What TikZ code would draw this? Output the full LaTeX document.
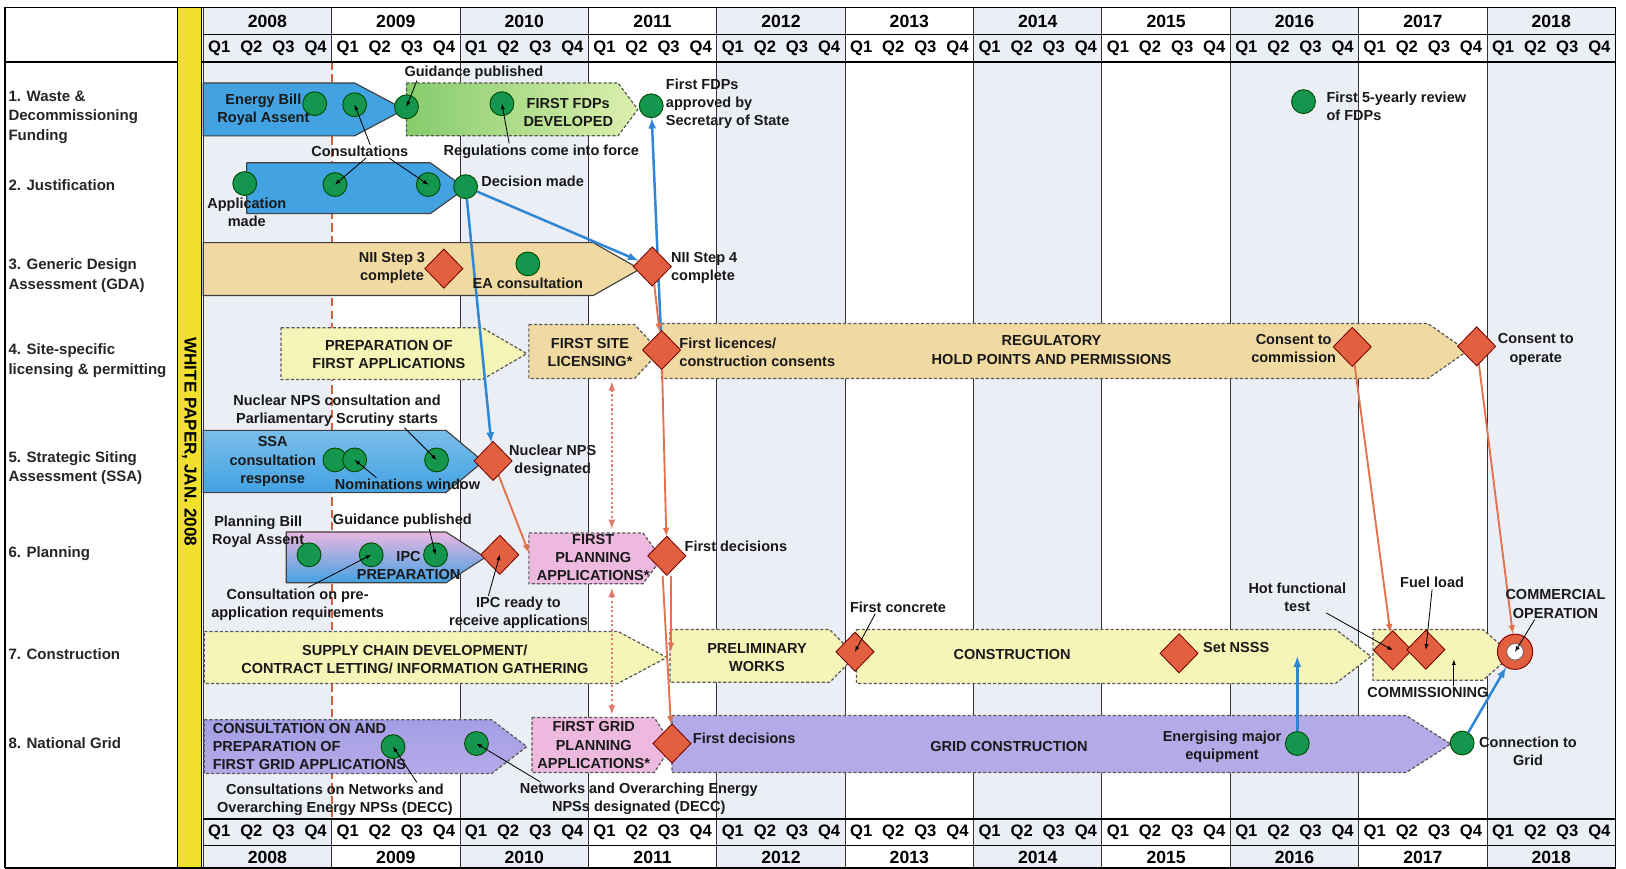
\documentclass[tikz,border=0pt]{standalone}
\usepackage{fontspec}
\setmainfont{Liberation Sans}
\usetikzlibrary{shapes.geometric}

\definecolor{yearshade}{HTML}{EBEEF4}
\definecolor{mgreen}{HTML}{15964F}
\definecolor{mred}{HTML}{E2603F}
\definecolor{ablue}{HTML}{2E86D4}
\definecolor{aorange}{HTML}{E4704C}
\definecolor{adot}{HTML}{E07A6E}
\definecolor{phblue}{HTML}{42A2E2}
\definecolor{phtan}{HTML}{F1DAA2}
\definecolor{phyellow}{HTML}{F6F5B8}
\definecolor{phpink}{HTML}{EDB9DF}
\definecolor{phlilac}{HTML}{B5AAE8}
\definecolor{lilacdark}{HTML}{A59EE6}
\definecolor{ipcpink}{HTML}{EBB6E2}
\definecolor{fdpdark}{HTML}{86CB6C}
\definecolor{fdplight}{HTML}{DCF0AE}
\definecolor{wpyellow}{HTML}{F2E12C}
\definecolor{wpline}{HTML}{CF6240}

\pgfdeclarelayer{back}
\pgfdeclarelayer{links}
\pgfsetlayers{back,links,main}

% chevron: style, x left, x flat end, x tip, y top, y bottom
\newcommand{\phase}[6]{\draw[#1] (#2,#5) -- (#3,#5) -- (#4,{(#5+#6)/2}) -- (#3,#6) -- (#2,#6) -- cycle;}

\begin{document}
\begin{tikzpicture}[x=1pt,y=-1pt,>=latex,
  milestone/.style={draw=black!70!green,fill=mgreen,shape=circle,minimum size=23pt,inner sep=0pt,line width=0.9pt},
  gate/.style={draw=black!55!red,fill=mred,shape=diamond,minimum width=37pt,minimum height=38pt,inner sep=0pt,line width=0.8pt},
  ring/.style={draw=black!50!red,fill=mred,shape=circle,minimum size=34pt,inner sep=0pt,line width=0.9pt,
    path picture={\draw[fill=white,draw=black!60,line width=0.8pt] (path picture bounding box.center) circle (8pt);}},
  note/.style={align=center,inner sep=1pt,text=black!90,font=\bfseries\fontsize{14}{17.5}\selectfont},
  rowlabel/.style={anchor=west,align=left,inner sep=0pt,text=black!85,font=\bfseries\fontsize{14.5}{19}\selectfont},
  yearlbl/.style={inner sep=0pt,font=\bfseries\fontsize{17}{19}\selectfont},
  qlbl/.style={inner sep=0pt,font=\bfseries\fontsize{16}{18}\selectfont},
  gridline/.style={black!80,line width=0.9pt},
  solidphase/.style={draw=black!75,line width=1.1pt,line join=round},
  dashphase/.style={draw=black!65,line width=1.2pt,dash pattern=on 3pt off 2pt},
  blueline/.style={->,ablue,line width=2.4pt},
  orangeline/.style={->,aorange,line width=1.8pt},
  dotline/.style={<->,adot,line width=2pt,dash pattern=on 2pt off 2.5pt},
  pointer/.style={->,black,line width=0.8pt}]

\useasboundingbox (0,0) rectangle (1568,838);

\begin{pgfonlayer}{back}
\fill[white] (0,0) rectangle (1568,838);
\foreach \yr in {2008,2010,...,2018}{
  \pgfmathsetmacro\xa{196+123.8*(\yr-2008)}
  \fill[yearshade] (\xa,7) rectangle ({\xa+123.8},838);
}
\foreach \yr in {2008,2010,2011,2012,2013,2014,2015,2016,2017,2018,2019}{
  \pgfmathsetmacro\xa{196+123.8*(\yr-2008)}
  \draw[gridline] (\xa,7) -- (\xa,838);
}
\draw[gridline] (319.8,7) -- (319.8,59.5);
\draw[gridline] (319.8,790) -- (319.8,838);
\draw[wpline,line width=1.8pt,dash pattern=on 8pt off 4pt] (319.8,59.5) -- (319.8,790);
% frame
\draw[line width=1.4pt] (5,7) -- (1558,7);
\draw[line width=0.9pt] (196,33.5) -- (1558,33.5);
\draw[line width=1.8pt] (5,59.5) -- (1558,59.5);
\draw[line width=1.8pt] (196,790) -- (1558,790);
\draw[line width=0.9pt] (196,815) -- (1558,815);
\draw[line width=1.4pt] (5,837) -- (1558,837);
\draw[line width=1.4pt] (5,7) -- (5,837);
\draw[line width=1.4pt] (1558,7) -- (1558,837);
\draw[fill=wpyellow,line width=1pt] (171,7) rectangle (194,837);

% phases
\phase{dashphase,left color=fdpdark,right color=fdplight}{392}{596}{615}{80}{131}
\phase{solidphase,fill=phblue}{196}{342}{390}{80}{131}
\phase{solidphase,fill=phblue}{238}{415}{449}{157}{206}
\phase{solidphase,fill=phtan}{196}{572}{617}{234}{285}
\phase{dashphase,fill=phyellow}{271}{465}{508}{316}{366}
\phase{dashphase,fill=phtan}{510}{612}{636}{313}{365}
\phase{dashphase,fill=phtan}{638}{1377}{1415}{312}{365}
\phase{solidphase,top color=phblue!70!white,bottom color=phblue}{196}{430}{466}{415}{475}
\phase{solidphase,top color=ipcpink,bottom color=phblue}{276}{430}{468}{513}{562}
\phase{dashphase,fill=phpink}{510}{620}{638}{514}{563}
\phase{dashphase,fill=phyellow}{197}{596}{643}{609}{659}
\phase{dashphase,fill=phyellow}{646}{800}{825}{607}{658}
\phase{dashphase,fill=phyellow}{826}{1288}{1322}{607}{659}
\phase{dashphase,fill=phyellow}{1324}{1430}{1458}{607}{656}
\phase{dashphase,top color=lilacdark,bottom color=phlilac}{197}{474}{508}{694}{746}
\phase{dashphase,fill=phpink}{513}{631}{648}{692}{745}
\phase{dashphase,fill=phlilac}{648}{1356}{1399}{690}{745}
\end{pgfonlayer}

% header and footer
\foreach \yr in {2008,...,2018}{
  \pgfmathsetmacro\xa{196+123.8*(\yr-2008)}
  \node [yearlbl,name=yt\yr] at ({\xa+61.9},20.5){\yr};
  \node [yearlbl,name=yb\yr] at ({\xa+61.9},826.5){\yr};
  \foreach \q in {1,...,4}{
    \node [qlbl,name=qt\yr\q] at ({\xa+30.95*(\q-0.5)},46.5){Q\q};
    \node [qlbl,name=qb\yr\q] at ({\xa+30.95*(\q-0.5)},802.5){Q\q};
  }
}
\node [rotate=-90,inner sep=0pt,font=\bfseries\fontsize{16.5}{18}\selectfont,name=wp] at (182.5,426){WHITE PAPER, JAN. 2008};

% row labels
\node [rowlabel,name=r1] at (8,113){1. Waste \&\\Decommissioning\\Funding};
\node [rowlabel,name=r2] at (8,178.5){2. Justification};
\node [rowlabel,name=r3] at (8,265.5){3. Generic Design\\Assessment (GDA)};
\node [rowlabel,name=r4] at (8,348){4. Site-specific\\licensing \& permitting};
\node [rowlabel,name=r5] at (8,451.5){5. Strategic Siting\\Assessment (SSA)};
\node [rowlabel,name=r6] at (8,534){6. Planning};
\node [rowlabel,name=r7] at (8,631){7. Construction};
\node [rowlabel,name=r8] at (8,717){8. National Grid};

% phase texts
\node [note,name=tfdp] at (548,108.5){FIRST FDPs\\DEVELOPED};
\node [note,name=tprep] at (375,341.5){PREPARATION OF\\FIRST APPLICATIONS};
\node [note,name=tsite] at (569,340){FIRST SITE\\LICENSING*};
\node [note,name=treg] at (1014,337.5){REGULATORY\\HOLD POINTS AND PERMISSIONS};
\node [note,name=tssa] at (263,445){SSA\\consultation\\response};
\node [note,name=tipc] at (394,545){IPC\\PREPARATION};
\node [note,name=tfpa] at (572,537.5){FIRST\\PLANNING\\APPLICATIONS*};
\node [note,name=tsup] at (400,636){SUPPLY CHAIN DEVELOPMENT/\\CONTRACT LETTING/ INFORMATION GATHERING};
\node [note,name=tpre] at (730,634.5){PRELIMINARY\\WORKS};
\node [note,name=tcon] at (976,631){CONSTRUCTION};
\node [note,anchor=west,align=left,name=tcgr] at (204,720){CONSULTATION ON AND\\PREPARATION OF\\FIRST GRID APPLICATIONS};
\node [note,name=tfgp] at (572.5,718.5){FIRST GRID\\PLANNING\\APPLICATIONS*};
\node [note,name=tgrc] at (973,720){GRID CONSTRUCTION};

% milestones
\node [milestone,name=m1] at (303.5,100){};
\node [milestone,name=m2] at (342,101){};
\node [milestone,name=m3] at (392,103){};
\node [milestone,name=m4] at (484,100){};
\node [milestone,name=m5] at (628,102){};
\node [milestone,name=m6] at (1257,98){};
\node [milestone,name=j1] at (236,177){};
\node [milestone,name=j2] at (323,178){};
\node [milestone,name=j3] at (413,178){};
\node [milestone,name=j4] at (449,180){};
\node [milestone,name=g1] at (509,254.5){};
\node [milestone,name=s1] at (323,443.5){};
\node [milestone,name=s2] at (342,443.5){};
\node [milestone,name=s3] at (421,443.5){};
\node [milestone,name=p1] at (298,535){};
\node [milestone,name=p2] at (358,535){};
\node [milestone,name=p3] at (420,535){};
\node [milestone,name=n1] at (379,720){};
\node [milestone,name=n2] at (459.5,717){};
\node [milestone,name=n3] at (1251,717){};
\node [milestone,name=n4] at (1410,716.5){};

% decision points
\node [gate,name=d1] at (428,259){};
\node [gate,name=d2] at (629,257){};
\node [gate,name=d3] at (638,337.5){};
\node [gate,name=d4] at (1304,334.5){};
\node [gate,name=d5] at (1424,334){};
\node [gate,name=d6] at (475.5,444.5){};
\node [gate,name=d7] at (482,535){};
\node [gate,name=d8] at (643,536){};
\node [gate,name=d9] at (824.5,628.5){};
\node [gate,name=d10] at (1137,630){};
\node [gate,name=d11] at (1343,627){};
\node [gate,name=d12] at (1375,626.5){};
\node [gate,name=d13] at (648,717){};
\node [ring,name=co] at (1461,628.5){};

% labels
\node [note,name=lroy] at (254,105.5){Energy Bill\\Royal Assent};
\node [note,name=lgd1] at (457,70){Guidance published};
\node [note,name=lcons] at (347,146){Consultations};
\node [note,name=lreg] at (522,146){Regulations come into force};
\node [note,anchor=west,align=left,name=lapp] at (641,100){First FDPs\\approved by\\Secretary of State};
\node [note,anchor=west,align=left,name=lrev] at (1278,102.5){First 5-yearly review\\of FDPs};
\node [note,name=lapl] at (238,205){Application\\made};
\node [note,anchor=west,name=ldec] at (463,175){Decision made};
\node [note,name=lnii3] at (378,258){NII Step 3\\complete};
\node [note,name=lea] at (509,273){EA consultation};
\node [note,anchor=west,align=left,name=lnii4] at (646,258){NII Step 4\\complete};
\node [note,anchor=west,align=left,name=llic] at (654,340){First licences/\\construction consents};
\node [note,name=lcom1] at (1247.5,336){Consent to\\commission};
\node [note,name=lop] at (1481,337){Consent to\\operate};
\node [note,name=lnps] at (325,396){Nuclear NPS consultation and\\Parliamentary Scrutiny starts};
\node [note,name=lnom] at (393,467){Nominations window};
\node [note,name=lnpsd] at (533,444.5){Nuclear NPS\\designated};
\node [note,name=lpb] at (249,512.5){Planning Bill\\Royal Assent};
\node [note,name=lgd2] at (388,502.5){Guidance published};
\node [note,name=lpre] at (287,583){Consultation on pre-\\application requirements};
\node [note,name=lipc] at (500,591){IPC ready to\\receive applications};
\node [note,anchor=west,name=lfd1] at (659,526.5){First decisions};
\node [note,name=lconc] at (866,585.5){First concrete};
\node [note,anchor=west,name=lnsss] at (1159,624){Set NSSS};
\node [note,name=lhot] at (1251,576){Hot functional\\test};
\node [note,name=lfuel] at (1381,562){Fuel load};
\node [note,name=lcop] at (1500,582.5){COMMERCIAL\\OPERATION};
\node [note,name=lcomm] at (1377,668){COMMISSIONING};
\node [note,name=lnet1] at (323,771){Consultations on Networks and\\Overarching Energy NPSs (DECC)};
\node [note,name=lnet2] at (616,770.5){Networks and Overarching Energy\\NPSs designated (DECC)};
\node [note,anchor=west,name=lfd2] at (667,711.5){First decisions};
\node [note,name=lene] at (1178.5,720){Energising major\\equipment};
\node [note,name=lcon] at (1473.5,724.5){Connection to\\Grid};

% free ends
\coordinate (fpa in) at (510,533);
\coordinate (prelim in) at (647,628);
\coordinate (nsss pt) at (1251,633);
\coordinate (comm pt) at (1402,636);
\coordinate (site bot) at (590,368);
\coordinate (fpa top) at (590,510);
\coordinate (fpa bot) at (590,567);
\coordinate (fgp top) at (590,689);

\begin{pgfonlayer}{links}
\draw[blueline] (j4)--(d2);
\draw[blueline] (j4)--(d6);
\draw[blueline] (d3)--(m5);
\draw[blueline] (n3)--(nsss pt);
\draw[blueline] (n4)--(co);
\draw[orangeline] (d2)--(d3);
\draw[orangeline] (d3)--(d8);
\draw[orangeline] ([xshift=-4pt]d8.south)--(d13);
\draw[orangeline] ([xshift=4pt]d8.south)--(prelim in);
\draw[orangeline] (d6)--(fpa in);
\draw[orangeline] (d4)--(d11);
\draw[orangeline] (d5)--(co);
\draw[dotline] (site bot)--(fpa top);
\draw[dotline] (fpa bot)--(fgp top);
\end{pgfonlayer}

\draw[pointer] ([xshift=-55pt]lgd1.south)--(m3.center);
\draw[pointer] ([xshift=10pt]lcons.north)--(m2.center);
\draw[pointer] ([xshift=6pt]lcons.south)--(j2.center);
\draw[pointer] ([xshift=28pt]lcons.south)--(j3.center);
\draw[pointer] ([xshift=-31pt]lreg.north)--(m4.center);
\draw[pointer] ([xshift=65pt]lnps.south)--(s3.center);
\draw[pointer] ([xshift=-30pt]lnom.north)--(s2.center);
\draw[pointer] ([xshift=26pt]lgd2.south)--(p3.center);
\draw[pointer] ([xshift=10pt]lpre.north)--(p2.center);
\draw[pointer] ([xshift=-29pt]lipc.north)--(d7.center);
\draw[pointer] ([xshift=-22pt]lconc.south)--(d9.center);
\draw[pointer] ([xshift=28pt]lhot.south)--(d11.center);
\draw[pointer] (lfuel.south)--(d12.center);
\draw[pointer] ([xshift=25pt]lcomm.north)--(comm pt);
\draw[pointer] ([xshift=-20pt]lcop.south)--(co.center);
\draw[pointer] ([xshift=79pt]lnet1.north)--(n1.center);
\draw[pointer] ([xshift=-95pt]lnet2.north)--(n2.center);
\end{tikzpicture}
\end{document}
